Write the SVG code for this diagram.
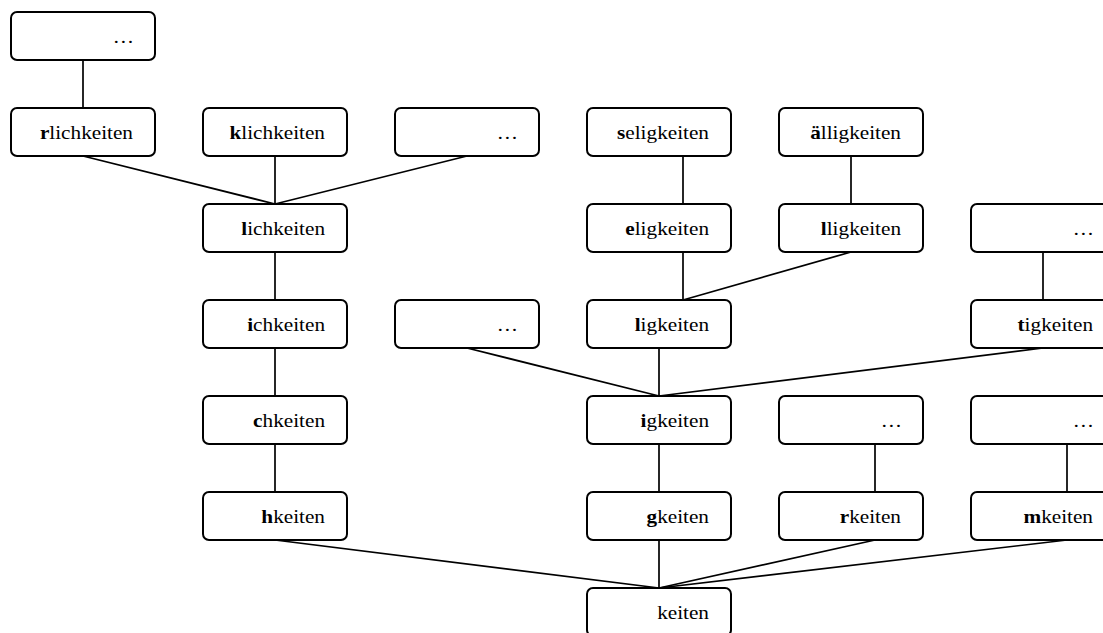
<svg xmlns="http://www.w3.org/2000/svg" width="1103" height="633" viewBox="0 0 1103 633">
<style>
rect.b{fill:#fff;stroke:#000;stroke-width:2}
text{font-family:'Liberation Serif','Times New Roman',serif;font-size:18px;fill:#000;text-anchor:end}
tspan.h{font-weight:bold}
#edges line{stroke:#000;stroke-width:1.7}
</style>
<rect width="1103" height="633" fill="#fff"/>
<g id="edges">
<line x1="83" y1="60" x2="83" y2="108"/>
<line x1="83" y1="156" x2="275" y2="204"/>
<line x1="275" y1="156" x2="275" y2="204"/>
<line x1="467" y1="156" x2="275" y2="204"/>
<line x1="683" y1="156" x2="683" y2="204"/>
<line x1="851" y1="156" x2="851" y2="204"/>
<line x1="275" y1="252" x2="275" y2="300"/>
<line x1="683" y1="252" x2="683" y2="300"/>
<line x1="851" y1="252" x2="683" y2="300"/>
<line x1="1043" y1="252" x2="1043" y2="300"/>
<line x1="275" y1="348" x2="275" y2="396"/>
<line x1="467" y1="348" x2="659" y2="396"/>
<line x1="659" y1="348" x2="659" y2="396"/>
<line x1="1043" y1="348" x2="659" y2="396"/>
<line x1="275" y1="444" x2="275" y2="492"/>
<line x1="659" y1="444" x2="659" y2="492"/>
<line x1="875" y1="444" x2="875" y2="492"/>
<line x1="1067" y1="444" x2="1067" y2="492"/>
<line x1="275" y1="540" x2="659" y2="588"/>
<line x1="659" y1="540" x2="659" y2="588"/>
<line x1="875" y1="540" x2="659" y2="588"/>
<line x1="1067" y1="540" x2="659" y2="588"/>
</g>
<g id="n0"><rect class="b" x="11" y="12" width="144" height="48" rx="6"/><text transform="translate(134,43) scale(1.18,1)">…</text></g>
<g id="n_rlichkeiten"><rect class="b" x="11" y="108" width="144" height="48" rx="6"/><text transform="translate(133,139) scale(1.18,1)"><tspan class="h">r</tspan>lichkeiten</text></g>
<g id="n_klichkeiten"><rect class="b" x="203" y="108" width="144" height="48" rx="6"/><text transform="translate(325,139) scale(1.18,1)"><tspan class="h">k</tspan>lichkeiten</text></g>
<g id="n_dots1"><rect class="b" x="395" y="108" width="144" height="48" rx="6"/><text transform="translate(518,139) scale(1.18,1)">…</text></g>
<g id="n_seligkeiten"><rect class="b" x="587" y="108" width="144" height="48" rx="6"/><text transform="translate(709,139) scale(1.18,1)"><tspan class="h">s</tspan>eligkeiten</text></g>
<g id="n_aelligkeiten"><rect class="b" x="779" y="108" width="144" height="48" rx="6"/><text transform="translate(901,139) scale(1.18,1)"><tspan class="h">ä</tspan>lligkeiten</text></g>
<g id="n_lichkeiten"><rect class="b" x="203" y="204" width="144" height="48" rx="6"/><text transform="translate(325,235) scale(1.18,1)"><tspan class="h">l</tspan>ichkeiten</text></g>
<g id="n_eligkeiten"><rect class="b" x="587" y="204" width="144" height="48" rx="6"/><text transform="translate(709,235) scale(1.18,1)"><tspan class="h">e</tspan>ligkeiten</text></g>
<g id="n_lligkeiten"><rect class="b" x="779" y="204" width="144" height="48" rx="6"/><text transform="translate(901,235) scale(1.18,1)"><tspan class="h">l</tspan>ligkeiten</text></g>
<g id="n_dots2"><rect class="b" x="971" y="204" width="144" height="48" rx="6"/><text transform="translate(1094,235) scale(1.18,1)">…</text></g>
<g id="n_ichkeiten"><rect class="b" x="203" y="300" width="144" height="48" rx="6"/><text transform="translate(325,331) scale(1.18,1)"><tspan class="h">i</tspan>chkeiten</text></g>
<g id="n_dots3"><rect class="b" x="395" y="300" width="144" height="48" rx="6"/><text transform="translate(518,331) scale(1.18,1)">…</text></g>
<g id="n_ligkeiten"><rect class="b" x="587" y="300" width="144" height="48" rx="6"/><text transform="translate(709,331) scale(1.18,1)"><tspan class="h">l</tspan>igkeiten</text></g>
<g id="n_tigkeiten"><rect class="b" x="971" y="300" width="144" height="48" rx="6"/><text transform="translate(1093,331) scale(1.18,1)"><tspan class="h">t</tspan>igkeiten</text></g>
<g id="n_chkeiten"><rect class="b" x="203" y="396" width="144" height="48" rx="6"/><text transform="translate(325,427) scale(1.18,1)"><tspan class="h">c</tspan>hkeiten</text></g>
<g id="n_igkeiten"><rect class="b" x="587" y="396" width="144" height="48" rx="6"/><text transform="translate(709,427) scale(1.18,1)"><tspan class="h">i</tspan>gkeiten</text></g>
<g id="n_dots4"><rect class="b" x="779" y="396" width="144" height="48" rx="6"/><text transform="translate(902,427) scale(1.18,1)">…</text></g>
<g id="n_dots5"><rect class="b" x="971" y="396" width="144" height="48" rx="6"/><text transform="translate(1094,427) scale(1.18,1)">…</text></g>
<g id="n_hkeiten"><rect class="b" x="203" y="492" width="144" height="48" rx="6"/><text transform="translate(325,523) scale(1.18,1)"><tspan class="h">h</tspan>keiten</text></g>
<g id="n_gkeiten"><rect class="b" x="587" y="492" width="144" height="48" rx="6"/><text transform="translate(709,523) scale(1.18,1)"><tspan class="h">g</tspan>keiten</text></g>
<g id="n_rkeiten"><rect class="b" x="779" y="492" width="144" height="48" rx="6"/><text transform="translate(901,523) scale(1.18,1)"><tspan class="h">r</tspan>keiten</text></g>
<g id="n_mkeiten"><rect class="b" x="971" y="492" width="144" height="48" rx="6"/><text transform="translate(1093,523) scale(1.18,1)"><tspan class="h">m</tspan>keiten</text></g>
<g id="n_keiten"><rect class="b" x="587" y="588" width="144" height="48" rx="6"/><text transform="translate(709,619) scale(1.18,1)">keiten</text></g>
</svg>
